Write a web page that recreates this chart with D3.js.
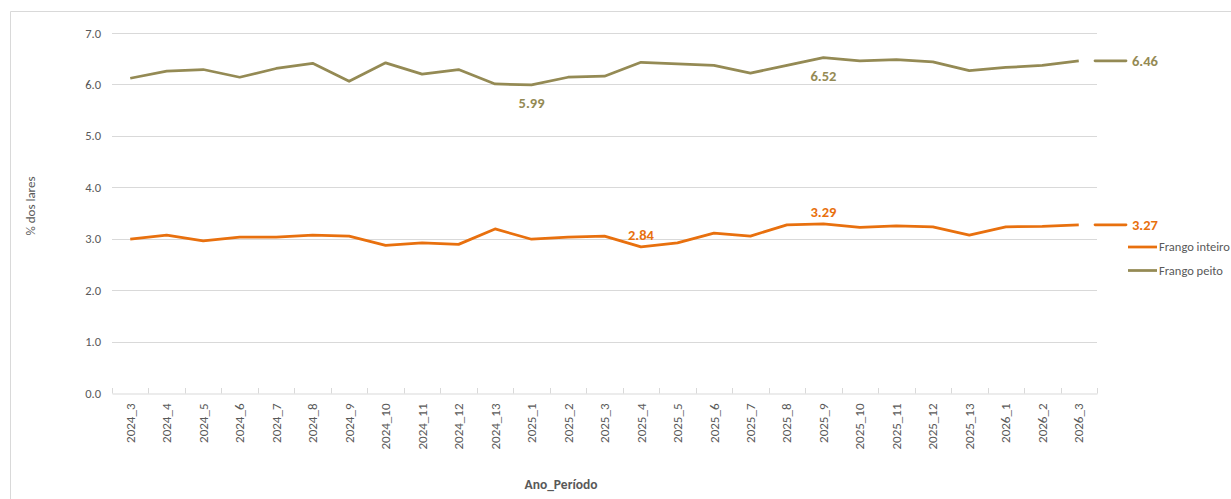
<!DOCTYPE html>
<html><head><meta charset="utf-8">
<script src="https://cdn.jsdelivr.net/npm/d3@7"></script>
<style>
html,body{margin:0;padding:0;background:#fff;}
svg text{font-family:Calibri,Carlito,"Open Sans",sans-serif;}
</style></head>
<body><svg id="c" width="1231" height="499"></svg>
<script>
const categories = ["2024_3","2024_4","2024_5","2024_6","2024_7","2024_8","2024_9","2024_10","2024_11","2024_12","2024_13",
"2025_1","2025_2","2025_3","2025_4","2025_5","2025_6","2025_7","2025_8","2025_9","2025_10","2025_11","2025_12","2025_13",
"2026_1","2026_2","2026_3"];
const inteiro = [2.99,3.07,2.96,3.03,3.03,3.07,3.05,2.87,2.92,2.89,3.19,2.99,3.03,3.05,2.84,2.92,3.11,3.05,3.27,3.29,3.22,3.25,3.23,3.07,3.23,3.24,3.27];
const peito = [6.12,6.26,6.29,6.14,6.31,6.41,6.06,6.42,6.20,6.29,6.01,5.99,6.14,6.16,6.43,6.40,6.37,6.22,6.37,6.52,6.46,6.48,6.44,6.27,6.33,6.37,6.46];
const yTicks = [0,1,2,3,4,5,6,7];
const seriesNames = ["Frango inteiro","Frango peito"];
// annotated points
const annotations = [
  {s:1, cat:"2025_1", pos:"below"},
  {s:1, cat:"2025_9", pos:"below"},
  {s:0, cat:"2025_4", pos:"above"},
  {s:0, cat:"2025_9", pos:"above"}
];

const colors = ["#E8700E","#948A54"];
const seriesData = [inteiro, peito];
const svg = d3.select("#c");
const gray = "#595959", grid = "#d9d9d9";

// frame
svg.append("path").attr("d","M10.5,499 V11.5 H1231").attr("fill","none").attr("stroke",grid).attr("stroke-width",1);

const x = d3.scaleBand().domain(categories).range([112,1097]);
const y = d3.scaleLinear().domain([0,7]).range([393,33]);

// gridlines
svg.append("g").selectAll("line").data(yTicks.filter(d=>d>0)).join("line")
  .attr("x1",112).attr("x2",1097).attr("y1",d=>Math.round(y(d))+0.5).attr("y2",d=>Math.round(y(d))+0.5)
  .attr("stroke",grid).attr("stroke-width",1);

// y axis labels
const yAxis = d3.axisLeft(y).tickValues(yTicks).tickFormat(d3.format(".1f")).tickSize(0).tickPadding(0);
const gy = svg.append("g").attr("transform","translate(101,0)").call(yAxis);
gy.select(".domain").remove();
gy.selectAll("text").attr("fill",gray).style("font-size","12.5px");

// x axis
const xAxis = d3.axisBottom(x).tickSize(0).tickPadding(0);
const gx = svg.append("g").attr("transform","translate(0,393.5)").call(xAxis);
gx.select(".domain").attr("stroke",grid);
gx.selectAll("text").attr("fill",gray).style("font-size","13px")
  .attr("transform","rotate(-90)").attr("text-anchor","end").attr("dy","0.35em").attr("x",-10).attr("y",0);
// boundary tick marks pointing up
const bounds = categories.map(c=>x(c)).concat([x.range()[1]]);
svg.append("g").selectAll("line").data(bounds).join("line")
  .attr("x1",d=>Math.round(d)+0.5).attr("x2",d=>Math.round(d)+0.5).attr("y1",388).attr("y2",393.5)
  .attr("stroke",grid);

// lines
const line = d3.line().x((d,i)=>x(categories[i])+x.bandwidth()/2).y(d=>y(d));
seriesData.forEach((s,k)=>{
  svg.append("path").datum(s).attr("d",line).attr("fill","none").attr("stroke",colors[k])
    .attr("stroke-width",2.75).attr("stroke-linejoin","round");
});

// end markers
seriesData.forEach((s,k)=>{
  const v = s[s.length-1];
  const xe = x.range()[1];
  svg.append("line").attr("x1",xe-2).attr("x2",xe+29).attr("y1",y(v)).attr("y2",y(v))
    .attr("stroke",colors[k]).attr("stroke-width",2.75).attr("stroke-linecap","round");
  svg.append("text").attr("x",xe+35).attr("y",y(v)).attr("dy","0.35em")
    .attr("fill",colors[k]).style("font-size","14.5px").style("font-weight","bold").text(v.toFixed(2));
});

// annotations
annotations.forEach(a=>{
  const i = categories.indexOf(a.cat);
  const v = seriesData[a.s][i];
  const cx = x(a.cat)+x.bandwidth()/2;
  svg.append("text").attr("x",cx).attr("y",a.pos==="below"? y(v)+18 : y(v)-12)
    .attr("dy","0.35em").attr("text-anchor","middle").attr("fill",colors[a.s])
    .style("font-size","14.5px").style("font-weight","bold").text(v.toFixed(2));
});

// legend
const lg = svg.append("g").attr("transform","translate(1128,247)");
seriesNames.forEach((n,k)=>{
  lg.append("line").attr("x1",0).attr("x2",29).attr("y1",k*23.5).attr("y2",k*23.5)
    .attr("stroke",colors[k]).attr("stroke-width",2.75);
  lg.append("text").attr("x",31).attr("y",k*23.5).attr("dy","0.35em").attr("fill",gray)
    .style("font-size","12.5px").text(n);
});

// axis titles
svg.append("text").attr("transform","translate(35,206) rotate(-90)").attr("text-anchor","middle")
  .attr("fill",gray).style("font-size","13px").text("% dos lares");
svg.append("text").attr("x",561).attr("y",489).attr("text-anchor","middle")
  .attr("fill",gray).style("font-size","13.5px").style("font-weight","bold").text("Ano_Período");
</script></body></html>
